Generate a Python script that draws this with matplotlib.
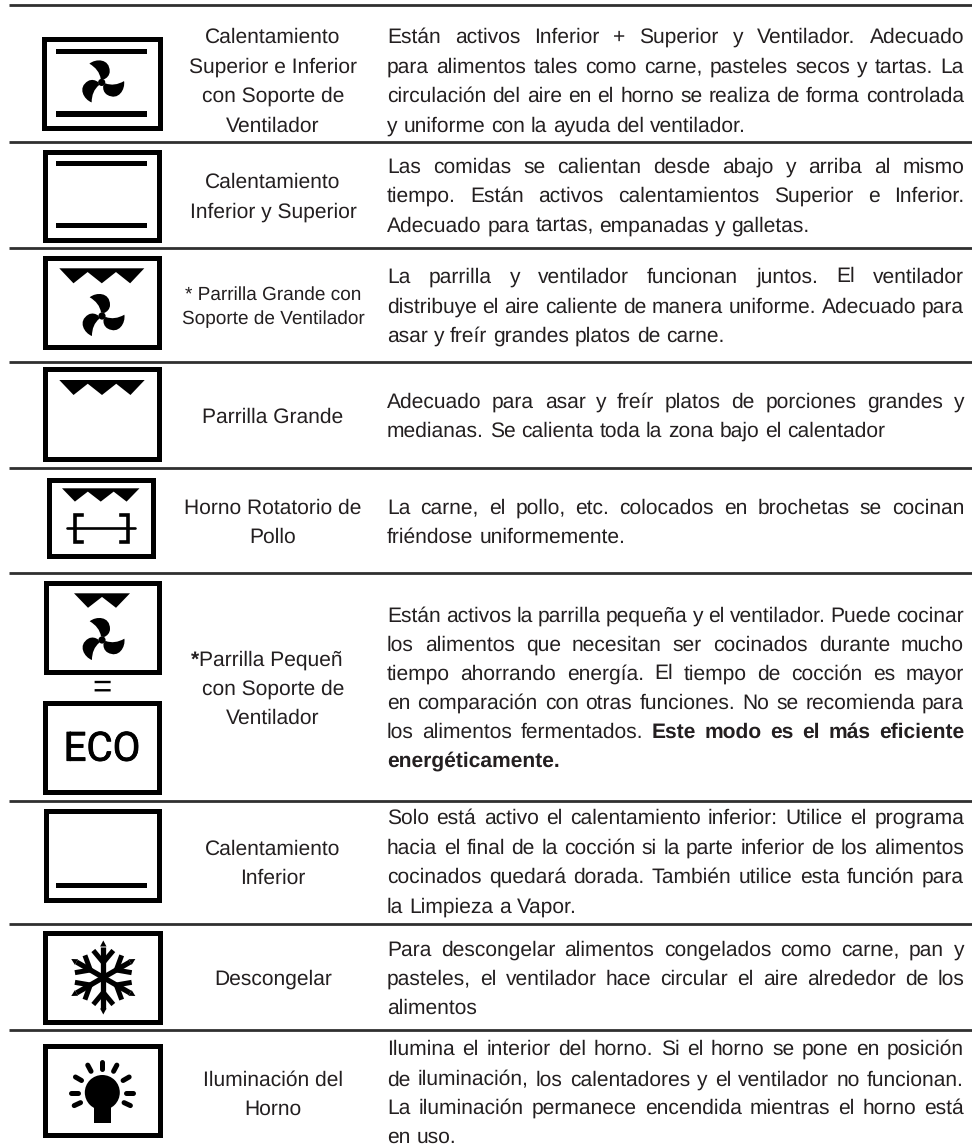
import numpy as np
import matplotlib
matplotlib.use("Agg")
import matplotlib.pyplot as plt
import matplotlib.patheffects as pe
from matplotlib.font_manager import FontProperties
from matplotlib.patches import Rectangle, Polygon, Circle, PathPatch
from matplotlib.path import Path

plt.rcParams["text.hinting"] = "no_hinting"
plt.rcParams["text.hinting_factor"] = 1

# Textos de la tabla
labels = [
    ["Calentamiento", "Superior e Inferior", "con Soporte de", "Ventilador"],
    ["Calentamiento", "Inferior y Superior"],
    ["* Parrilla Grande con", "Soporte de Ventilador"],
    ["Parrilla Grande"],
    ["Horno Rotatorio de", "Pollo"],
    ["Parrilla Pequeñ", "con Soporte de", "Ventilador"],
    ["Calentamiento", "Inferior"],
    ["Descongelar"],
    ["Iluminación del", "Horno"],
]

# "|" marca donde empieza la negrita
descriptions = [
    ["Están activos Inferior + Superior y Ventilador. Adecuado",
     "para alimentos tales como carne, pasteles secos y tartas. La",
     "circulación del aire en el horno se realiza de forma controlada",
     "y uniforme con la ayuda del ventilador."],
    ["Las comidas se calientan desde abajo y arriba al mismo",
     "tiempo. Están activos calentamientos Superior e Inferior.",
     "Adecuado para tartas, empanadas y galletas."],
    ["La parrilla y ventilador funcionan juntos. El ventilador",
     "distribuye el aire caliente de manera uniforme. Adecuado para",
     "asar y freír grandes platos de carne."],
    ["Adecuado para asar y freír platos de porciones grandes y",
     "medianas. Se calienta toda la zona bajo el calentador"],
    ["La carne, el pollo, etc. colocados en brochetas se cocinan",
     "friéndose uniformemente."],
    ["Están activos la parrilla pequeña y el ventilador. Puede cocinar",
     "los alimentos que necesitan ser cocinados durante mucho",
     "tiempo ahorrando energía. El tiempo de cocción es mayor",
     "en comparación con otras funciones. No se recomienda para",
     "los alimentos fermentados. |Este modo es el más eficiente",
     "|energéticamente."],
    ["Solo está activo el calentamiento inferior: Utilice el programa",
     "hacia el final de la cocción si la parte inferior de los alimentos",
     "cocinados quedará dorada. También utilice esta función para",
     "la Limpieza a Vapor."],
    ["Para descongelar alimentos congelados como carne, pan y",
     "pasteles, el ventilador hace circular el aire alrededor de los",
     "alimentos"],
    ["Ilumina el interior del horno. Si el horno se pone en posición",
     "de iluminación, los calentadores y el ventilador no funcionan.",
     "La iluminación permanece encendida mientras el horno está",
     "en uso."],
]

# Posiciones (pixeles de la imagen)
rule_y = [5, 142, 248, 362, 468, 573, 801, 924, 1030]
label_y = [
    [43, 72.7, 101.7, 131.7], [187.7, 217.3], [300, 324], [422.7], [513.7, 542.7],
    [665.3, 695, 724], [854.3, 883.3], [985], [1085.7, 1114.3],
]
desc_y = [
    [43, 72.7, 101.7, 131.7], [173.3, 202.3, 231.7], [283.3, 312.7, 341.7], [407.7, 436.7],
    [513.7, 542.7], [621.7, 651, 680, 709.3, 738.3, 767.3], [824.3, 854.3, 883.3, 913.3],
    [955.7, 985, 1014], [1055, 1085.7, 1114.3, 1143.3],
]

FONT = "Liberation Sans"
TEXT_COLOR = "#231f20"
SIZE = 15.2
LEFT, RIGHT = 387, 964
CENTER = 273

fig = plt.figure(figsize=(9.72, 11.46), dpi=100)
ax = fig.add_axes([0, 0, 1, 1])
ax.set_xlim(0, 972)
ax.set_ylim(1146, 0)
ax.axis("off")
renderer = fig.canvas.get_renderer()


def text_width(s, weight="normal", size=SIZE):
    t = ax.text(0, 0, s, family=FONT, fontsize=size, fontweight=weight)
    w = t.get_window_extent(renderer).width
    t.remove()
    return w


def snap_y(s, y, weight="normal"):
    # Cada palabra se redondea segun su descenso: sin esto bailan en la linea base
    prop = FontProperties(family=FONT, size=SIZE, weight=weight)
    d = renderer.get_text_width_height_descent(s, prop, False)[2]
    return round(y) - 1 + np.ceil(d) - d


def draw_line(line, y, justify):
    # Linea justificada palabra por palabra
    normal, _, bold = line.partition("|")
    words = [(w, "normal") for w in normal.split()] + [(w, "bold") for w in bold.split()]
    widths = [text_width(w, k) for w, k in words]
    gap = text_width("a a") - text_width("aa")
    if justify and len(words) > 1:
        gap = (RIGHT - LEFT - sum(widths)) / (len(words) - 1)
    x = LEFT
    for (w, k), wd in zip(words, widths):
        ax.text(x, snap_y(w, y, k), w, family=FONT, fontsize=SIZE, fontweight=k, color=TEXT_COLOR, va="baseline")
        x += wd + gap


for y in rule_y:
    ax.plot([9, 972], [y, y], color="#303030", lw=2.0, solid_capstyle="butt")

for i, lines in enumerate(labels):
    size = 13.4 if i == 2 else SIZE
    for s, y in zip(lines, label_y[i]):
        if s == "Parrilla Pequeñ":
            star = text_width("*", "bold")
            total = star + text_width(s)
            x0 = 267 - total / 2
            ax.text(x0, y, "*", family=FONT, fontsize=SIZE, fontweight="bold", color=TEXT_COLOR, va="baseline")
            ax.text(x0 + star, y, s, family=FONT, fontsize=SIZE, color=TEXT_COLOR, va="baseline")
        else:
            ax.text(CENTER, y, s, family=FONT, fontsize=size, color=TEXT_COLOR, ha="center", va="baseline")

for i, lines in enumerate(descriptions):
    for j, (s, y) in enumerate(zip(lines, desc_y[i])):
        draw_line(s, y, j < len(lines) - 1)


# Iconos
def box(x0, x1, y0, y1, t=5):
    ax.add_patch(Rectangle((x0 + t / 2, y0 + t / 2), x1 - x0 - t, y1 - y0 - t,
                           fill=False, ec="black", lw=t * 0.72, joinstyle="miter"))


def bar(y0, y1, x0=56, x1=146.5):
    ax.add_patch(Rectangle((x0, y0), x1 - x0, y1 - y0, fc="black", ec="none"))


def grill(x0, x1, y, depth, n=3):
    # Dientes de la parrilla
    step = (x1 - x0) / n
    pts = [(x0, y), (x1, y)]
    for k in range(n, 0, -1):
        tip = x0 + step * (k - 0.5)
        pts.append((tip, y + depth))
        if k > 1:
            pts.append((x0 + step * (k - 1), y + depth * 0.25))
    ax.add_patch(Polygon(pts, closed=True, fc="black", ec="none"))


def fan(cx, cy, hub=3.6):
    verts = [(-12.3, -18.7), (-6, -24), (8, -24), (8, -11), (8, -7), (5, -4), (2, -3), (-1, -3.5),
             (-2, -10), (-6, -15), (-12.3, -18.7)]
    codes = [Path.MOVETO, Path.CURVE4, Path.CURVE4, Path.CURVE4, Path.CURVE4, Path.CURVE4, Path.CURVE4,
             Path.LINETO, Path.CURVE4, Path.CURVE4, Path.CURVE4]
    for ang in (0, 120, 240):
        a = np.radians(ang)
        v = np.array(verts)
        rot = np.c_[v[:, 0] * np.cos(a) - v[:, 1] * np.sin(a) + cx,
                    v[:, 0] * np.sin(a) + v[:, 1] * np.cos(a) + cy]
        ax.add_patch(PathPatch(Path(rot, codes), fc="black", ec="none"))
    ax.add_patch(Circle((cx, cy), hub, fc="black", ec="none"))


def spit():
    ax.plot([66.7, 135], [528.3, 528.3], color="black", lw=1.9, solid_capstyle="round")
    ax.plot([81.7, 75, 75, 81.7], [515, 515, 541.5, 541.5], color="black", lw=2.6, solid_joinstyle="miter")
    ax.plot([120.5, 128.3, 128.3, 120.5], [515, 515, 541.5, 541.5], color="black", lw=2.6, solid_joinstyle="miter")


def snowflake(cx, cy):
    for ang in range(0, 360, 60):
        a = np.radians(ang)
        ux, uy = np.sin(a), -np.cos(a)
        px_, py_ = -uy, ux
        ax.plot([cx, cx + ux * 31], [cy, cy + uy * 31], color="black", lw=3.8, solid_capstyle="butt")
        ax.add_patch(Polygon([(cx + ux * 31 + px_ * 3.2, cy + uy * 31 + py_ * 3.2),
                              (cx + ux * 31 - px_ * 3.2, cy + uy * 31 - py_ * 3.2),
                              (cx + ux * 37, cy + uy * 37)], fc="black", ec="none"))
        for s in (-1, 1):
            ax.plot([cx + ux * 15, cx + ux * 27 + s * px_ * 10],
                    [cy + uy * 15, cy + uy * 27 + s * py_ * 10],
                    color="black", lw=3.6, solid_capstyle="butt")


def bulb(cx, cy):
    ax.add_patch(Circle((cx, cy), 17.5, fc="black", ec="none"))
    ax.add_patch(Rectangle((cx - 8.5, cy + 8), 17, 22.5, fc="black", ec="none"))
    for ang in (-115, -90, -60, -28, 0, 28, 60, 90, 115):
        a = np.radians(ang)
        ux, uy = np.sin(a), -np.cos(a)
        ax.plot([cx + ux * 24, cx + ux * 31], [cy + uy * 24, cy + uy * 31],
                color="black", lw=3.6, solid_capstyle="round")


box(41.7, 162.3, 36, 130.7)
bar(48.7, 53.7, 55.7, 146.7)
bar(111.3, 116.7, 55.7, 146.7)
fan(101.7, 82.4)

box(42.3, 161.7, 149, 242.7)
bar(161.3, 166)
bar(223.3, 228.3)

box(42.3, 161.7, 255.3, 350)
grill(59.3, 144.3, 268.3, 15)
fan(102, 316)

box(42.3, 161.7, 366.7, 461)
grill(59.3, 144.7, 380, 15)

box(46.3, 155, 477.3, 558.3)
grill(62, 139.5, 488.3, 13.3)
spit()

box(43.3, 161, 580, 674)
grill(74, 130, 593.3, 14.5, n=2)
fan(102, 640)

ax.text(101.7, 697, "=", family=FONT, fontsize=24, color="black", ha="center", va="baseline")
box(42.3, 161.7, 700.7, 794)
ax.text(101.7, 760.7, "ECO", family="Roboto", fontsize=29, color="black", ha="center", va="baseline",
        path_effects=[pe.withStroke(linewidth=0.6, foreground="black")])

box(43, 161.3, 808.3, 902.3)
bar(883.3, 888.3)

box(42.3, 162.3, 930, 1024.3)
snowflake(103.3, 977.5)

box(42.3, 162.3, 1043.7, 1137.7)
bulb(102.3, 1092.5)

fig.savefig("out.png", dpi=100, facecolor="white")
